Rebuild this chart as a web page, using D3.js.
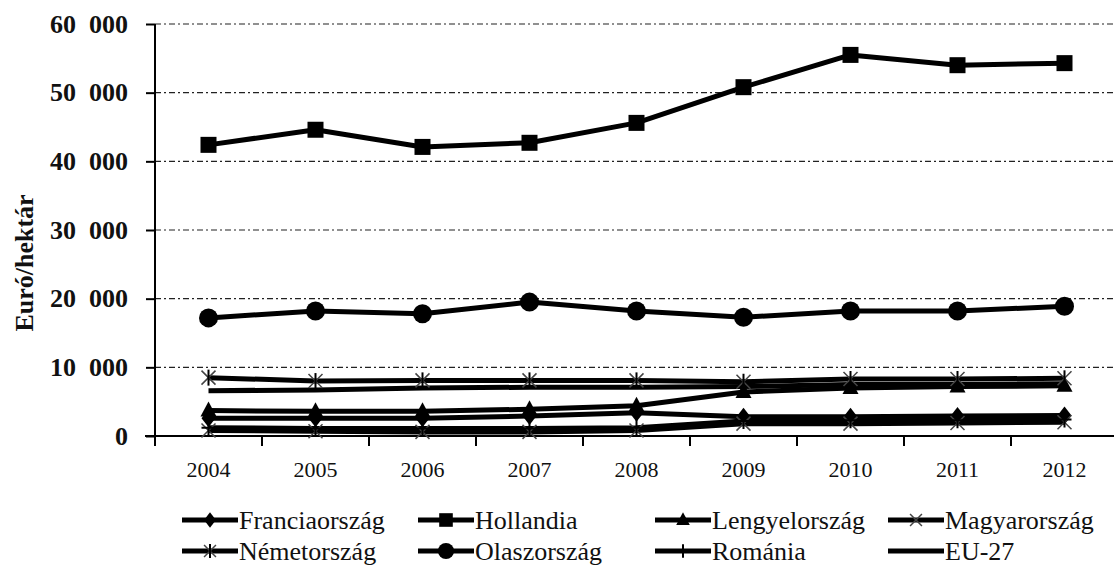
<!DOCTYPE html>
<html><head><meta charset="utf-8">
<script src="https://cdn.jsdelivr.net/npm/d3@7"></script>
<style>body{margin:0;background:#fff}svg{display:block}svg text{font-family:"Liberation Serif",serif !important}</style>
</head><body><svg id="c" width="1114" height="565" font-family="Liberation Serif"></svg>
<script>
const years = ["2004","2005","2006","2007","2008","2009","2010","2011","2012"];
const yTicks = [0,10000,20000,30000,40000,50000,60000];
const franciaorszag = [2600,2600,2600,2900,3400,2800,2800,2900,3000];
const hollandia = [42400,44600,42100,42700,45600,50800,55500,54000,54300];
const lengyelorszag = [3700,3600,3600,3900,4400,6400,7000,7200,7300];
const magyarorszag = [800,700,600,600,800,1800,1800,1900,2000];
const nemetorszag = [8500,8000,8100,8100,8100,7900,8300,8300,8400];
const olaszorszag = [17200,18200,17800,19500,18200,17300,18200,18200,18900];
const romania = [1200,1100,1100,1100,1200,2200,2300,2300,2400];
const eu27 = [6600,6700,7000,7100,7100,7200,7500,7500,7600];

const series = [
  {name:"Franciaország", values:franciaorszag, marker:"diamond"},
  {name:"Hollandia", values:hollandia, marker:"square"},
  {name:"Lengyelország", values:lengyelorszag, marker:"triangle"},
  {name:"Magyarország", values:magyarorszag, marker:"x"},
  {name:"Németország", values:nemetorszag, marker:"asterisk"},
  {name:"Olaszország", values:olaszorszag, marker:"circle"},
  {name:"Románia", values:romania, marker:"plus"},
  {name:"EU-27", values:eu27, marker:"none"}
];

const svg = d3.select("#c");
const font = "Liberation Serif";
const x = d3.scaleBand().domain(years).range([155,1118]).padding(0);
const y = d3.scaleLinear().domain([0,60000]).range([436,24]);
const fmt = v => v===0 ? "0" : d3.format(",")(v).replace(/,/g,"\u2007");

// gridlines
svg.append("g").selectAll("line").data(yTicks.filter(d=>d>0)).join("line")
  .attr("x1",155).attr("x2",1114).attr("y1",d=>y(d)).attr("y2",d=>y(d))
  .attr("stroke","#222").attr("stroke-width",1.2).attr("stroke-dasharray","6,3,2,3");

// y axis
const ya = svg.append("g").attr("transform","translate(155,0)")
  .call(d3.axisLeft(y).tickValues(yTicks).tickFormat(fmt).tickSize(9).tickPadding(18));
ya.attr("font-family",font);
ya.select(".domain").attr("stroke","#000").attr("stroke-width",2).attr("d","M0,24V446");
ya.selectAll(".tick line").attr("stroke","#000").attr("stroke-width",2);
ya.selectAll("text").attr("font-family",font).style("font-family",font,"important").attr("font-size",26).attr("font-weight","bold").attr("fill","#111");

// x axis
const xa = svg.append("g").attr("transform","translate(0,436)")
  .call(d3.axisBottom(x).tickSize(0).tickPadding(25));
xa.attr("font-family",font);
xa.select(".domain").attr("stroke","#000").attr("stroke-width",2).attr("d","M145,0H1114");
xa.selectAll("text").attr("font-family",font).style("font-family",font,"important").attr("font-size",22).attr("fill","#111");
svg.append("g").selectAll("line").data(years).join("line")
  .attr("x1",d=>x(d)+x.bandwidth()).attr("x2",d=>x(d)+x.bandwidth())
  .attr("y1",436).attr("y2",446).attr("stroke","#000").attr("stroke-width",2);

// y title
svg.append("text").attr("transform","translate(33,263) rotate(-90)")
  .attr("text-anchor","middle").attr("font-family",font).style("font-family",font,"important").attr("font-size",26).attr("font-weight","bold")
  .attr("fill","#111").text("Euró/hektár");

const cx = d => x(d)+x.bandwidth()/2;
const line = d3.line().x((d,i)=>cx(years[i])).y(d=>y(d));

function drawMarker(g, type, px, py, s){
  s = s||1;
  if(type==="diamond"){
    g.append("path").attr("d",`M${px},${py-9*s}L${px+7*s},${py}L${px},${py+9*s}L${px-7*s},${py}Z`).attr("fill","#000");
  } else if(type==="square"){
    g.append("rect").attr("x",px-8*s).attr("y",py-8*s).attr("width",16*s).attr("height",16*s).attr("fill","#000");
  } else if(type==="triangle"){
    g.append("path").attr("d",`M${px},${py-9*s}L${px+8*s},${py+6*s}L${px-8*s},${py+6*s}Z`).attr("fill","#000");
  } else if(type==="x"){
    const r=7*s;
    g.append("path").attr("d",`M${px-r},${py-r}L${px+r},${py+r}M${px-r},${py+r}L${px+r},${py-r}`).attr("stroke","#444").attr("stroke-width",1.5);
  } else if(type==="asterisk"){
    const r=7*s;
    g.append("path").attr("d",`M${px-r},${py-r}L${px+r},${py+r}M${px-r},${py+r}L${px+r},${py-r}`).attr("stroke","#444").attr("stroke-width",1.5);
    g.append("path").attr("d",`M${px},${py-r-1}L${px},${py+r+1}`).attr("stroke","#000").attr("stroke-width",2);
  } else if(type==="circle"){
    g.append("circle").attr("cx",px).attr("cy",py).attr("r",9.5*s).attr("fill","#000");
  } else if(type==="plus"){
    g.append("path").attr("d",`M${px},${py-8*s}L${px},${py+8*s}M${px-7*s},${py}L${px+7*s},${py}`).attr("stroke","#000").attr("stroke-width",2);
  }
}

const lg = svg.append("g");
series.forEach(s=>{
  lg.append("path").datum(s.values).attr("d",line).attr("fill","none")
    .attr("stroke","#000").attr("stroke-width",5).attr("stroke-linejoin","round");
});
const mg = svg.append("g");
series.forEach(s=>{
  s.values.forEach((v,i)=>drawMarker(mg, s.marker, cx(years[i]), y(v)));
});

// legend
const legX = [182,418,655,888];
const legY = [520,551];
const leg = svg.append("g").attr("font-family",font);
series.forEach((s,i)=>{
  const lx = legX[i%4], ly = legY[Math.floor(i/4)];
  const item = leg.append("g").attr("transform",`translate(${lx},${ly})`).attr("font-family",font);
  item.append("line").attr("x1",0).attr("x2",56).attr("y1",0).attr("y2",0).attr("stroke","#000").attr("stroke-width",5);
  drawMarker(item, s.marker, 28, 0, 0.85);
  item.append("text").attr("x",57).attr("dy","0.34em").attr("text-anchor","start")
    .attr("font-family","Liberation Serif, Times New Roman, serif")
    .style("font-family","'Liberation Serif', 'Times New Roman', serif","important")
    .attr("font-size",26).attr("fill","#111").text(s.name);
});
</script></body></html>
